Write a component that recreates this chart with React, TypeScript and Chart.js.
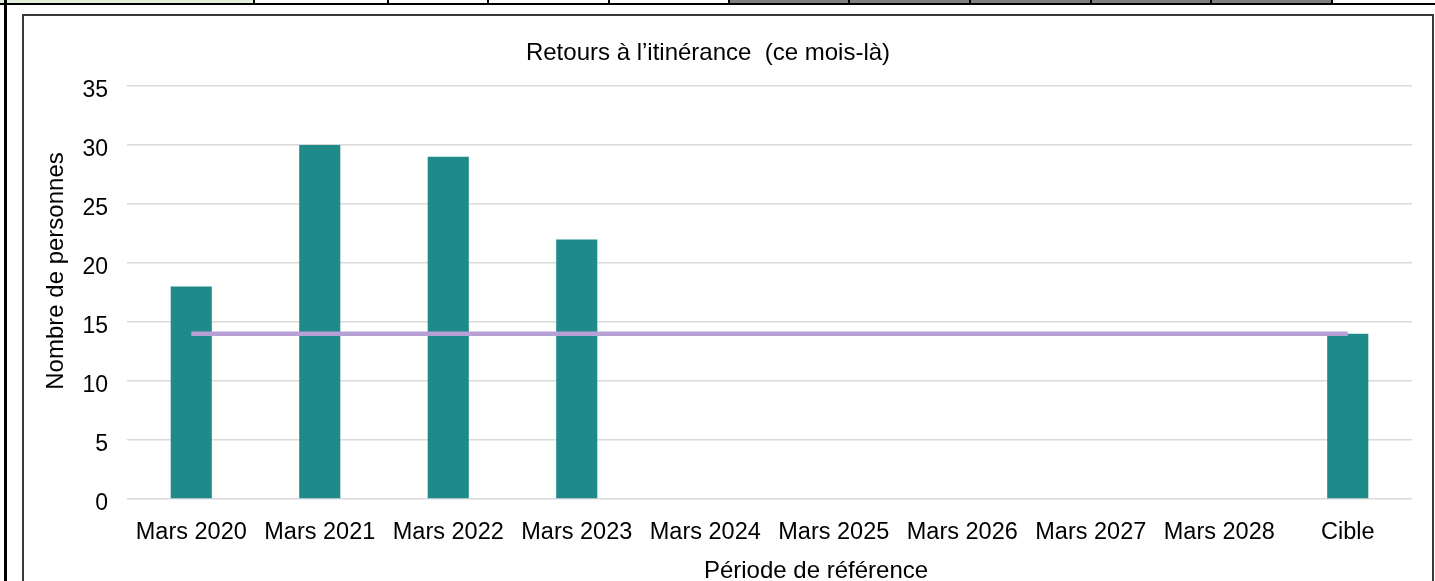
import React, { useEffect, useRef } from 'react';
import { Chart, registerables } from 'chart.js';

Chart.register(...registerables);

const categories = [
  'Mars 2020', 'Mars 2021', 'Mars 2022', 'Mars 2023', 'Mars 2024',
  'Mars 2025', 'Mars 2026', 'Mars 2027', 'Mars 2028', 'Cible',
];
const returnValues: (number | null)[] = [18, 30, 29, 22, null, null, null, null, null, 14];
const targetValues = [14, 14, 14, 14, 14, 14, 14, 14, 14, 14];
const yMin = 0;
const yMax = 35;
const yStep = 5;
const chartTitle = 'Retours à l’itinérance  (ce mois-là)';
const xAxisTitle = 'Période de référence';
const yAxisTitle = 'Nombre de personnes';

const FONT = '"Liberation Sans", Arial, sans-serif';
const CANVAS_LEFT = 24;
const CANVAS_TOP = 16;

const titlesPlugin = {
  id: 'customTitles',
  afterDraw(chart: any) {
    const ctx = chart.ctx as CanvasRenderingContext2D;
    ctx.save();
    ctx.fillStyle = '#000';
    ctx.textAlign = 'center';
    ctx.textBaseline = 'middle';
    ctx.font = `24px ${FONT}`;
    ctx.fillText(chartTitle, 708 - CANVAS_LEFT, 53 - CANVAS_TOP);
    ctx.fillText(xAxisTitle, 816 - CANVAS_LEFT, 571 - CANVAS_TOP);
    ctx.translate(56 - CANVAS_LEFT, 271 - CANVAS_TOP);
    ctx.rotate(-Math.PI / 2);
    ctx.fillText(yAxisTitle, 0, 0);
    ctx.restore();
  },
};

function ChartView() {
  const ref = useRef<HTMLCanvasElement | null>(null);
  useEffect(() => {
    if (!ref.current) return;
    const chart = new Chart(ref.current, {
      type: 'bar',
      data: {
        labels: categories,
        datasets: [
          {
            type: 'line',
            label: 'Cible',
            data: targetValues,
            borderColor: '#b7a0d6',
            backgroundColor: '#b7a0d6',
            borderWidth: 4.5,
            pointRadius: 0,
            borderCapStyle: 'butt',
            order: 0,
          } as any,
          {
            type: 'bar',
            label: 'Retours',
            data: returnValues,
            backgroundColor: '#1e8a8a',
            borderWidth: 0,
            categoryPercentage: 1,
            barPercentage: 0.32,
            order: 1,
          } as any,
        ],
      },
      options: {
        animation: false,
        responsive: true,
        maintainAspectRatio: false,
        layout: { padding: { left: 0, right: 20, top: 70, bottom: 0 } },
        plugins: {
          legend: { display: false },
          title: { display: false },
          tooltip: { enabled: false },
        },
        scales: {
          x: {
            grid: { display: false, drawTicks: false },
            border: { display: false },
            ticks: {
              color: '#000',
              font: { family: FONT, size: 23.5 },
              padding: 19,
              maxRotation: 0,
              autoSkip: false,
            },
            afterFit: (scale: any) => { scale.height = 82; },
          },
          y: {
            min: yMin,
            max: yMax,
            grid: { color: '#d9d9d9', lineWidth: 1.5, drawTicks: false },
            border: { display: false },
            ticks: {
              stepSize: yStep,
              color: '#000',
              font: { family: FONT, size: 23 },
              padding: 19,
              labelOffset: 5,
            },
            afterFit: (scale: any) => { scale.width = 103; },
          },
        },
      },
      plugins: [titlesPlugin],
    });
    return () => chart.destroy();
  }, []);
  return <canvas ref={ref} />;
}

const sepXs = [253, 387, 487, 608, 728, 848, 969, 1090, 1210, 1331];

export default function App() {
  return (
    <div style={{ position: 'fixed', left: 0, top: 0, width: 1435, height: 581, background: '#fff', overflow: 'hidden' }}>
      <div style={{ position: 'absolute', left: 0, top: 0, width: 253, height: 3, background: '#e2efda' }} />
      <div style={{ position: 'absolute', left: 728, top: 0, width: 603, height: 3, background: '#808080' }} />
      {sepXs.map((x) => (
        <div key={x} style={{ position: 'absolute', left: x, top: 0, width: 2, height: 4, background: '#000' }} />
      ))}
      <div style={{ position: 'absolute', left: 0, top: 3, width: 1435, height: 2, background: '#000' }} />
      <div style={{ position: 'absolute', left: 4, top: 0, width: 3, height: 581, background: '#000' }} />
      <div style={{ position: 'absolute', left: 22, top: 14, width: 1412, height: 620, border: '2px solid #3a3a3a', boxSizing: 'border-box' }} />
      <div style={{ position: 'absolute', left: CANVAS_LEFT, top: CANVAS_TOP, width: 1408, height: 565 }}>
        <ChartView />
      </div>
    </div>
  );
}
